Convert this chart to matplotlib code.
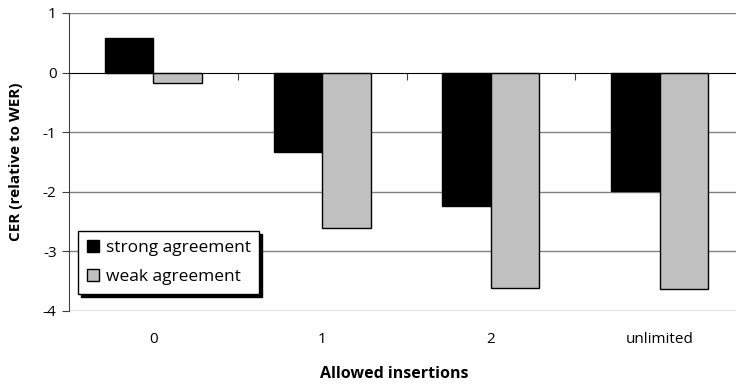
import matplotlib.pyplot as plt
import matplotlib.transforms as mtransforms
import numpy as np

plt.rcParams['font.family'] = ['Open Sans', 'DejaVu Sans']

categories = ['0', '1', '2', 'unlimited']
strong = [0.58, -1.33, -2.23, -1.98]
weak = [-0.18, -2.60, -3.62, -3.63]

fig = plt.figure(figsize=(7.36, 3.84), dpi=100)
# plot area runs slightly past the right edge of the image, as in the original
ax = fig.add_axes([69 / 736, 1 - 311 / 384, 675 / 736, 298 / 384])

x = np.arange(len(categories))
w = 0.288
ax.bar(x - w / 2, strong, w, color='black', edgecolor='black', linewidth=1,
       label='strong agreement', zorder=3)
ax.bar(x + w / 2, weak, w, color='#c0c0c0', edgecolor='black', linewidth=1,
       label='weak agreement', zorder=3)

ax.set_xlim(-0.5, len(categories) - 0.5)
ax.set_ylim(-4, 1)
ax.set_yticks([1, 0, -1, -2, -3, -4])
ax.set_yticklabels(['1', '0', '-1', '-2', '-3', '-4'], fontsize=11)
for v in [1, -1, -2, -3, -4]:
    ax.axhline(v, color='#808080', linewidth=1, zorder=1)

for s in ['top', 'right']:
    ax.spines[s].set_visible(False)
ax.spines['left'].set_color('#404040')
ax.spines['bottom'].set_position(('data', 0))
ax.spines['bottom'].set_color('black')
ax.spines['bottom'].set_zorder(4)
ax.tick_params(axis='y', length=5, color='#404040', pad=4)

# category boundary ticks hanging below the zero line
ax.set_xticks(np.arange(len(categories) + 1) - 0.5)
ax.set_xticklabels([])
ax.tick_params(axis='x', length=5, direction='out', color='#404040')

trans = mtransforms.blended_transform_factory(ax.transData, ax.transAxes)
for i, c in enumerate(categories):
    ax.text(i, -0.095, c, transform=trans, ha='center', va='center', fontsize=11)

ax.set_ylabel('CER (relative to WER)', fontsize=11, fontweight='bold', labelpad=14)
fig.text(394 / 736, 1 - 374 / 384, 'Allowed insertions', ha='center',
         va='center', fontsize=11.5, fontweight='bold')

leg = ax.legend(loc='lower left', bbox_to_anchor=(9 / 675, 17 / 298), fontsize=12.5,
                frameon=True, fancybox=False, shadow={'color': 'black', 'alpha': 1},
                handlelength=0.7, handleheight=0.7, handletextpad=0.4,
                borderpad=0.5, labelspacing=0.75, borderaxespad=0)
leg.get_frame().set_edgecolor('black')
leg.get_frame().set_linewidth(1)
leg.set_zorder(5)

fig.savefig('out.png', dpi=100)
